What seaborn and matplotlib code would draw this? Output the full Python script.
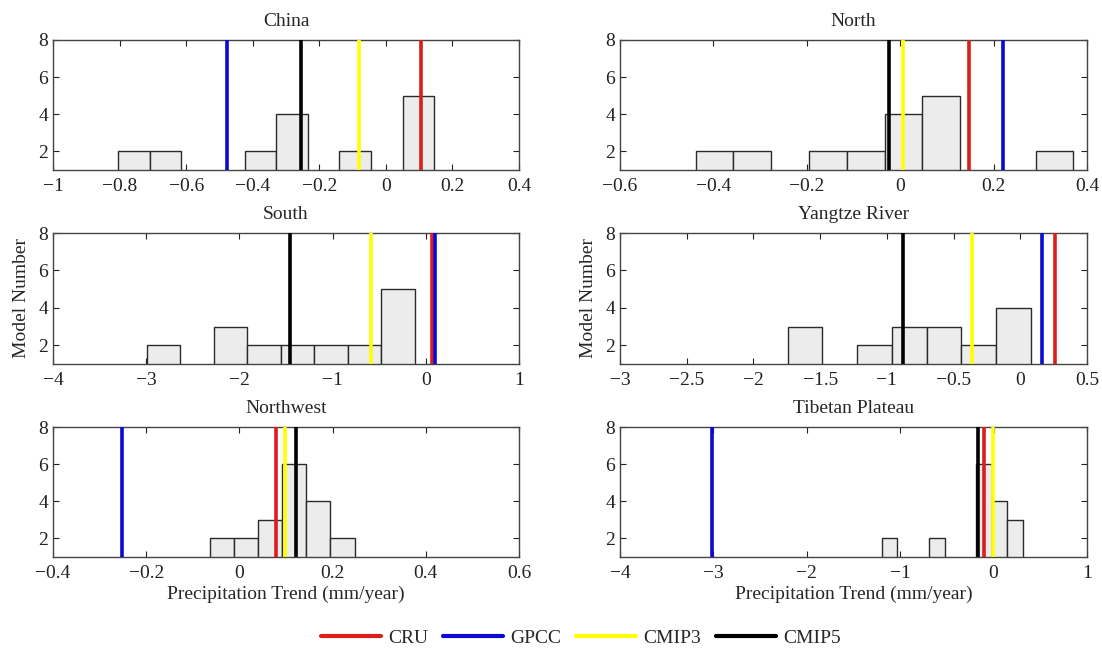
import numpy as np
import pandas as pd
import matplotlib
matplotlib.use("Agg")
import matplotlib.pyplot as plt
from matplotlib.lines import Line2D
import seaborn as sns

# ---- data ----
regions = ["China", "North", "South", "Yangtze River", "Northwest", "Tibetan Plateau"]

# histogram bin range (visible bins) and model counts per bin
china_bins = (-0.804, 0.145)
china_counts = [2, 2, 0, 0, 2, 4, 0, 2, 0, 5]
north_bins = (-0.438, 0.371)
north_counts = [2, 2, 0, 2, 2, 4, 5, 0, 0, 2]
south_bins = (-2.995, -0.119)
south_counts = [2, 0, 3, 2, 2, 2, 2, 5]
yangtze_bins = (-1.743, 0.079)
yangtze_counts = [3, 0, 2, 3, 3, 2, 4]
northwest_bins = (-0.063, 0.247)
northwest_counts = [2, 2, 3, 6, 4, 2]
tibet_bins = (-1.199, 0.317)
tibet_counts = [2, 0, 0, 2, 0, 0, 6, 4, 3]

# observed / ensemble trends (mm/year): CRU, GPCC, CMIP3, CMIP5
sources = ["CRU", "GPCC", "CMIP3", "CMIP5"]
china_lines = [0.106, -0.478, -0.082, -0.256]
north_lines = [0.147, 0.220, 0.006, -0.024]
south_lines = [0.063, 0.094, -0.586, -1.454]
yangtze_lines = [0.263, 0.164, -0.360, -0.878]
northwest_lines = [0.078, -0.252, 0.097, 0.121]
tibet_lines = [-0.105, -3.01, -0.010, -0.163]

# axis ranges and tick steps
xlims = [(-1, 0.4), (-0.6, 0.4), (-4, 1), (-3, 0.5), (-0.4, 0.6), (-4, 1)]
xsteps = [0.2, 0.2, 1, 0.5, 0.2, 1]

bins_all = [china_bins, north_bins, south_bins, yangtze_bins, northwest_bins, tibet_bins]
counts_all = [china_counts, north_counts, south_counts, yangtze_counts, northwest_counts, tibet_counts]
lines_all = [china_lines, north_lines, south_lines, yangtze_lines, northwest_lines, tibet_lines]

line_colors = ["#dd1c1c", "#0a0ad0", "#ffff00", "#000000"]

# ---- styling ----
sns.set_style("ticks")
plt.rcParams["font.family"] = ["Liberation Serif", "DejaVu Serif"]
plt.rcParams["axes.unicode_minus"] = True
FS = 14


def fmt(t):
    v = round(float(t), 2) + 0.0
    if abs(v) < 1e-9:
        v = 0.0
    return ("%g" % v).replace("-", "\u2212")


fig = plt.figure(figsize=(11.02, 6.5), dpi=100)
W, H = 1102.0, 650.0
col_x = [(53, 519), (620, 1087)]
row_y = [(40, 170), (233, 364), (427, 557)]

for i, name in enumerate(regions):
    r, c = divmod(i, 2)
    x0, x1 = col_x[c]
    y0, y1 = row_y[r]
    ax = fig.add_axes([x0 / W, 1 - y1 / H, (x1 - x0) / W, (y1 - y0) / H])

    lo, hi = bins_all[i]
    counts = list(counts_all[i])
    nb = len(counts)
    width = (hi - lo) / nb
    centers = [lo + width * (k + 0.5) for k in range(nb)]
    df = pd.DataFrame({"trend": centers, "n": counts})
    sns.histplot(data=df, x="trend", weights="n", bins=nb, binrange=(lo, hi),
                 ax=ax, stat="count", color="#ececec", edgecolor="#2a2a2a",
                 linewidth=1.0, alpha=1.0)

    for val, col in zip(lines_all[i], line_colors):
        ax.axvline(val, color=col, lw=2.6, zorder=5)

    xa, xb = xlims[i]
    ax.set_xlim(xa, xb)
    ax.set_ylim(1, 8)
    ticks = np.arange(xa, xb + xsteps[i] / 2, xsteps[i])
    ax.set_xticks(ticks)
    ax.set_xticklabels([fmt(t) for t in ticks])
    ax.set_yticks([2, 4, 6, 8])
    ax.tick_params(direction="in", length=4, width=0.8, top=True, right=True,
                   labelsize=FS, colors="#222222")
    ax.tick_params(axis="x", pad=5.5)
    ax.tick_params(axis="y", pad=3.5)
    for s in ax.spines.values():
        s.set_color("#444444")
        s.set_linewidth(1.0)
    ax.set_title(name, fontsize=FS, pad=10)
    ax.set_ylabel("Model Number" if r == 1 else "", fontsize=FS, labelpad=6)
    ax.set_xlabel("Precipitation Trend (mm/year)" if r == 2 else "", fontsize=FS, labelpad=3)

handles = [Line2D([0], [0], color=col, lw=3) for col in line_colors]
fig.legend(handles, sources, loc="center", bbox_to_anchor=(0.527, 1 - 638 / H),
           ncol=4, frameon=False, fontsize=FS, handlelength=3.1,
           handletextpad=0.36, columnspacing=0.77)

fig.savefig("out.png", dpi=100)
